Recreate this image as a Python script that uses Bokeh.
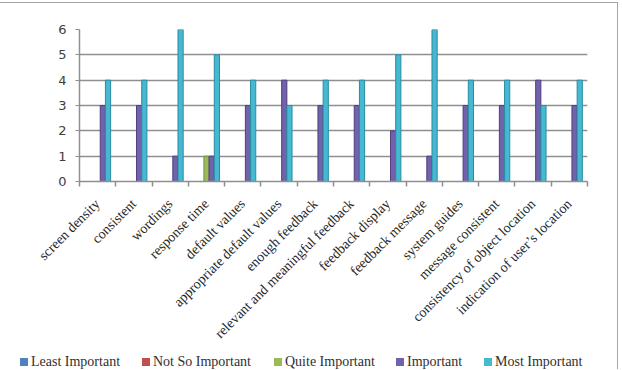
import math
from bokeh.plotting import figure
from bokeh.layouts import column
from bokeh.models import (Range1d, FixedTicker, ColumnDataSource, Div)
from bokeh.embed import file_html
from bokeh.resources import INLINE

# Survey results: number of respondents per importance level for each interface item
categories = ["screen density", "consistent", "wordings", "response time",
              "default values", "appropriate default values", "enough feedback",
              "relevant and meaningful feedback", "feedback display", "feedback message",
              "system guides", "message consistent", "consistency of object location",
              "indication of user\u2019s location"]
least_important = [0, 0, 0, 0, 0, 0, 0, 0, 0, 0, 0, 0, 0, 0]
not_so_important = [0, 0, 0, 0, 0, 0, 0, 0, 0, 0, 0, 0, 0, 0]
quite_important = [0, 0, 0, 1, 0, 0, 0, 0, 0, 0, 0, 0, 0, 0]
important = [3, 3, 1, 1, 3, 4, 3, 3, 2, 1, 3, 3, 4, 3]
most_important = [4, 4, 6, 5, 4, 3, 4, 4, 5, 6, 4, 4, 3, 4]
series_names = ["Least Important", "Not So Important", "Quite Important",
                "Important", "Most Important"]
y_ticks = [0, 1, 2, 3, 4, 5, 6]

series_values = [least_important, not_so_important, quite_important,
                 important, most_important]
fills = ["#4F81BD", "#C0504D", "#9BBB59", "#7262AC", "#45B8D2"]
edges = ["#3A6399", "#963C3A", "#76913F", "#4E3F80", "#2B8CA3"]

p = figure(width=617, height=351, output_backend="svg", toolbar_location=None,
           x_range=Range1d(0, len(categories)), y_range=Range1d(0, 6),
           min_border_left=79, min_border_right=30, min_border_top=26,
           min_border_bottom=173)
p.outline_line_color = None
p.background_fill_color = "white"
p.border_fill_color = "white"

bar_w = 0.143
centres = [k + 0.5 for k in range(len(categories))]
for i, (vals, fc, ec) in enumerate(zip(series_values, fills, edges)):
    xs = [c + (i - 2) * bar_w for c, v in zip(centres, vals) if v > 0]
    tops = [v for v in vals if v > 0]
    if tops:
        src = ColumnDataSource(dict(x=xs, top=tops))
        p.vbar(x="x", top="top", width=bar_w, bottom=0, source=src,
               fill_color=fc, line_color=ec, line_width=1)

# gridlines
p.xgrid.visible = False
p.ygrid.grid_line_color = "#8f8f8f"
p.ygrid.grid_line_width = 1.6
p.ygrid.ticker = FixedTicker(ticks=y_ticks)

# y axis
p.yaxis.ticker = FixedTicker(ticks=y_ticks)
p.yaxis.axis_line_color = "#8f8f8f"
p.yaxis.axis_line_width = 1.5
p.yaxis.major_tick_line_color = "#8f8f8f"
p.yaxis.major_tick_out = 4
p.yaxis.major_tick_in = 0
p.yaxis.minor_tick_line_color = None
p.yaxis.major_label_text_font = "DejaVu Sans"
p.yaxis.major_label_text_font_size = "13px"
p.yaxis.major_label_text_color = "#404040"
p.yaxis.major_label_standoff = 9

# x axis: labels at category centres, ticks at category boundaries
bounds = list(range(len(categories) + 1))
p.xaxis.ticker = FixedTicker(ticks=centres, minor_ticks=bounds)
p.xaxis.major_label_overrides = {c: name for c, name in zip(centres, categories)}
p.xaxis.major_label_orientation = math.pi / 4
p.xaxis.major_tick_line_color = None
p.xaxis.major_tick_out = 0
p.xaxis.major_tick_in = 0
p.xaxis.minor_tick_line_color = "#8f8f8f"
p.xaxis.minor_tick_line_width = 1.5
p.xaxis.minor_tick_out = 5
p.xaxis.minor_tick_in = 0
p.xaxis.axis_line_color = "#8f8f8f"
p.xaxis.axis_line_width = 1.5
p.xaxis.major_label_text_font = "Liberation Serif"
p.xaxis.major_label_text_font_size = "14px"
p.xaxis.major_label_text_color = "#262626"
p.xaxis.major_label_standoff = 15

# legend strip underneath the chart
legend_left = [20, 142, 274, 396, 484]
entries = []
for name, fc, lx in zip(series_names, fills, legend_left):
    entries.append(
        f'<span style="position:absolute;left:{lx}px;top:0;white-space:nowrap;">'
        f'<span style="display:inline-block;width:8px;height:8px;background:{fc};'
        f'margin-right:3px;"></span>{name}</span>')
legend_div = Div(text="".join(entries), width=617, height=15, margin=0,
                 styles={"position": "relative", "font-family": "Liberation Serif",
                         "font-size": "14px", "line-height": "15px",
                         "color": "#303030", "overflow": "hidden"})

layout = column(p, legend_div, spacing=0, margin=(2, 0, 0, 0),
                styles={"border-top": "1.5px solid #a6a6a6",
                        "border-right": "1.5px solid #a6a6a6"})

open("out.html", "w").write(file_html(layout, INLINE))
